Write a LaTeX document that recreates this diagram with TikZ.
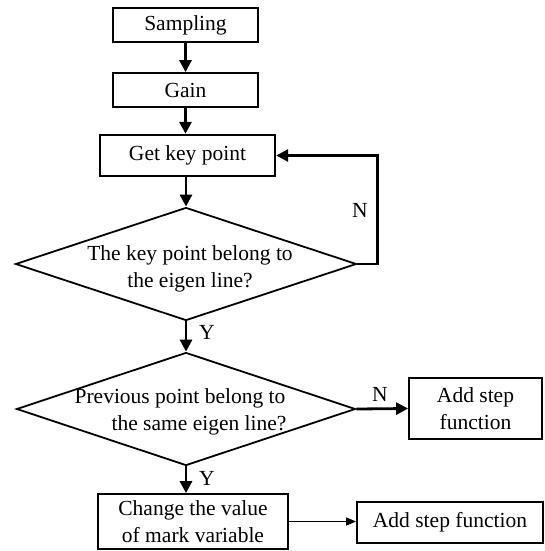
\documentclass[tikz,border=0pt]{standalone}
\usepackage{fontspec}
\setmainfont{Liberation Serif}
\usetikzlibrary{shapes.geometric,arrows.meta}
\begin{document}
\begin{tikzpicture}[x=1pt,y=-1pt,
  every node/.style={font=\fontsize{21.5}{27}\selectfont},
  box/.style={draw,line width=1.8pt,inner sep=0pt,align=center},
  dia/.style={draw,diamond,line width=1.8pt,inner sep=0pt},
  flow/.style={line width=2.8pt,-{Triangle[length=12pt,width=12pt]}},
  thinflow/.style={line width=1.2pt,-{Triangle[length=10pt,width=8pt]}},
  lbl/.style={inner sep=0pt}]
\useasboundingbox (0,0) rectangle (545,551);
\node[box,minimum width=145pt,minimum height=34pt] (samp) at (185.5,25) {Sampling};
\node[box,minimum width=145pt,minimum height=34pt] (gain) at (185.5,90) {Gain};
\node[box,line width=2.4pt,minimum width=175pt,minimum height=41pt] (key) at (187.5,155.5) {Get key point};
\node[dia,minimum width=341pt,minimum height=113pt] (d1) at (186,264) {};
\node[lbl,align=center] (d1t) at (190,269) {The key point belong to\\the eigen line?};
\node[dia,minimum width=339pt,minimum height=113pt] (d2) at (186,409) {};
\node[lbl] (d2a) at (180,398) {Previous point belong to};
\node[lbl] (d2b) at (199,425) {the same eigen line?};
\node[box,minimum width=133pt,minimum height=61pt] (add1) at (475.5,408.5) {Add step\\function};
\node[box,minimum width=190pt,minimum height=55pt] (chg) at (193,521.5) {Change the value\\of mark variable};
\node[box,minimum width=186pt,minimum height=41pt] (add2) at (450,522.5) {Add step function};
\coordinate (fb) at (377.5,264);
\draw[flow] (samp.south) -- (gain.north);
\draw[flow] (gain.south) -- (key.north -| gain.south);
\draw[flow] (key.south -| d1.north) -- (d1.north);
\draw[flow] (d1.east) -- (fb) |- (key.east);
\draw[flow] (d1.south) -- (d2.north);
\draw[flow] (d2.east) -- (add1.west);
\draw[flow] (d2.south) -- (d2.south |- chg.north);
\draw[thinflow] (chg.east) -- (add2.west |- chg.east);
\node[lbl] (n1) at (360,210) {N};
\node[lbl] (y1) at (207,332) {Y};
\node[lbl] (n2) at (380,394) {N};
\node[lbl] (y2) at (207,478) {Y};
\end{tikzpicture}
\end{document}
